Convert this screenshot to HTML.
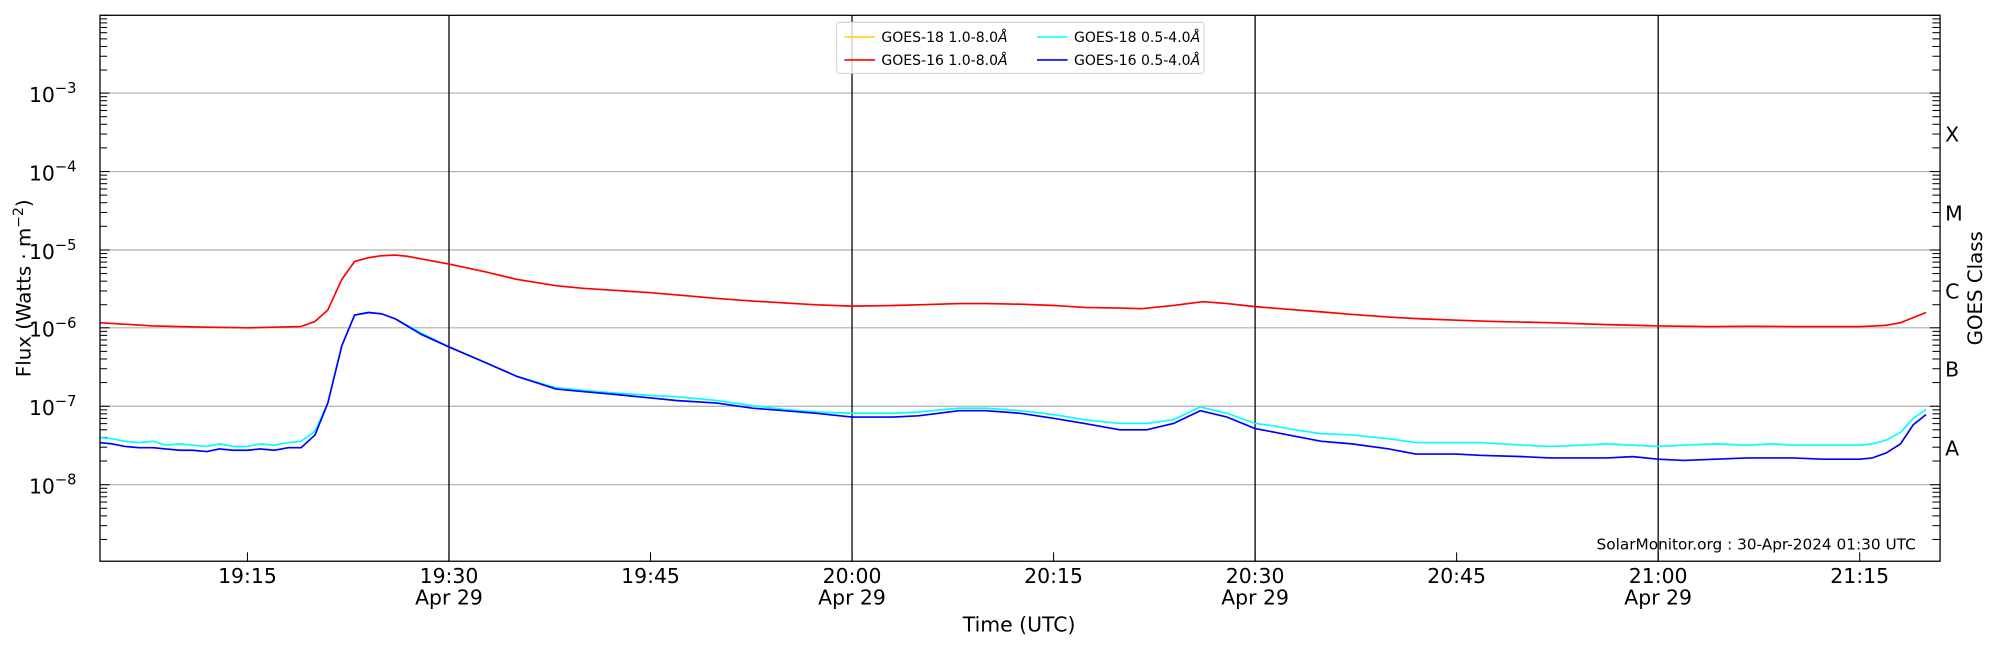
<!DOCTYPE html>
<html><head><meta charset="utf-8"><style>
html,body{margin:0;padding:0;background:#fff;}
svg{display:block;font-family:"DejaVu Sans","Liberation Sans",sans-serif;}
</style></head><body>
<svg id="s" width="2000" height="650" viewBox="0 0 1568 509.6" xmlns="http://www.w3.org/2000/svg">
<rect width="1568" height="509.6" fill="#fff"/>
<g stroke="#b0b0b0" stroke-width="0.9">
<line x1="78.4" x2="1521" y1="73" y2="73"/><line x1="78.4" x2="1521" y1="134.5" y2="134.5"/>
<line x1="78.4" x2="1521" y1="196" y2="196"/><line x1="78.4" x2="1521" y1="257" y2="257"/>
<line x1="78.4" x2="1521" y1="318.5" y2="318.5"/><line x1="78.4" x2="1521" y1="380" y2="380"/>
</g>
<g stroke="#000" stroke-width="1">
<line x1="352" x2="352" y1="12" y2="440"/><line x1="668" x2="668" y1="12" y2="440"/>
<line x1="984" x2="984" y1="12" y2="440"/><line x1="1300" x2="1300" y1="12" y2="440"/>
</g>
<g id="ticks" stroke="#000" stroke-width="0.8"></g>
<g fill="none" stroke-width="1.3" stroke-linejoin="round">
<polyline stroke="#00ffff" points="78,343 88,344 98,346 109,347 120,346 130,349 141,348 151,349 162,350 172,348 183,350 194,350 204,348 215,349 226,347 236,346 247,338 257,316 268,271 278,247 289,245 299,246 310,250 330,261 352,272 380,284 405,295 436,304 457,306 480,308 510,310 530,311 562,314 590,318 615,321 640,323 668,324 700,324 720,323 752,320 773,320 800,322 826,325 850,329 878,332 899,332 920,329 941,319 962,324 984,332 1000,334 1015,337 1036,340 1060,341 1089,344 1110,347 1142,347 1160,347 1194,349 1215,350 1240,349 1260,348 1280,349 1300,350 1320,349 1345,348 1370,349 1390,348 1405,349 1430,349 1458,349 1468,348 1479,345 1490,339 1500,328 1510,321"/>
<polyline stroke="#0000ff" points="78,347 88,348 98,350 109,351 120,351 130,352 141,353 151,353 162,354 172,352 183,353 194,353 204,352 215,353 226,351 236,351 247,341 257,316 268,271 278,247 289,245 299,246 310,250 330,262 352,272 380,284 405,295 436,305 457,307 480,309 510,312 530,314 562,316 590,320 615,322 640,324 668,327 700,327 720,326 752,322 773,322 800,324 826,328 850,332 878,337 899,337 920,332 941,322 962,327 984,336 1000,339 1015,342 1036,346 1060,348 1089,352 1110,356 1142,356 1160,357 1194,358 1215,359 1240,359 1260,359 1280,358 1300,360 1320,361 1345,360 1370,359 1390,359 1405,359 1430,360 1458,360 1468,359 1479,355 1490,348 1500,333 1510,325"/>
<polyline stroke="#ffd000" stroke-width="0.8" points="78,253 120,255.5 162,256.5 194,257 236,256 247,252 257,243 268,219 278,205 289,202 299,200.5 310,200 320,201 352,207 380,213 405,219 436,224 457,226 480,227.5 510,229.5 540,232 562,234 590,236 615,237.5 640,239 668,240 700,239.5 720,239 752,238 773,238 800,238.5 826,239.5 850,241 878,241.5 895,242 920,239.5 943,236.5 962,238 984,240.4 1010,242.5 1036,244.5 1060,246.5 1089,248.6 1115,250 1142,251 1170,252 1215,253 1260,254.5 1300,255.5 1340,256 1370,255.8 1405,256 1440,256 1458,256 1470,255.5 1479,255 1490,253 1500,249 1510,245"/>
<polyline stroke="#ff0000" points="78,253 120,255.5 162,256.5 194,257 236,256 247,252 257,243 268,219 278,205 289,202 299,200.5 310,200 320,201 352,207 380,213 405,219 436,224 457,226 480,227.5 510,229.5 540,232 562,234 590,236 615,237.5 640,239 668,240 700,239.5 720,239 752,238 773,238 800,238.5 826,239.5 850,241 878,241.5 895,242 920,239.5 943,236.5 962,238 984,240.4 1010,242.5 1036,244.5 1060,246.5 1089,248.6 1115,250 1142,251 1170,252 1215,253 1260,254.5 1300,255.5 1340,256 1370,255.8 1405,256 1440,256 1458,256 1470,255.5 1479,255 1490,253 1500,249 1510,245"/>
</g>
<rect x="78.4" y="12" width="1442.6" height="428" fill="none" stroke="#000" stroke-width="1"/>
<g font-size="16" text-anchor="end" fill="#000">
<text x="60" y="80">10<tspan dy="-7" font-size="11.5">−3</tspan></text>
<text x="60" y="141.5">10<tspan dy="-7" font-size="11.5">−4</tspan></text>
<text x="60" y="203">10<tspan dy="-7" font-size="11.5">−5</tspan></text>
<text x="60" y="264">10<tspan dy="-7" font-size="11.5">−6</tspan></text>
<text x="60" y="325.5">10<tspan dy="-7" font-size="11.5">−7</tspan></text>
<text x="60" y="387">10<tspan dy="-7" font-size="11.5">−8</tspan></text>
</g>
<g font-size="16" fill="#000">
<text x="1525" y="111">X</text><text x="1525" y="173">M</text><text x="1525" y="234">C</text>
<text x="1525" y="295">B</text><text x="1525" y="357">A</text>
</g>
<text transform="translate(1554,226) rotate(-90)" font-size="15.5" text-anchor="middle">GOES Class</text>
<text transform="translate(24,226) rotate(-90)" font-size="15.5" text-anchor="middle">Flux (Watts · m<tspan dy="-6" font-size="11">−2</tspan><tspan dy="6">)</tspan></text>
<g font-size="16" text-anchor="middle" fill="#000">
<text x="194" y="457">19:15</text><text x="352" y="457">19:30</text><text x="352" y="474">Apr 29</text>
<text x="510" y="457">19:45</text><text x="668" y="457">20:00</text><text x="668" y="474">Apr 29</text>
<text x="826" y="457">20:15</text><text x="984" y="457">20:30</text><text x="984" y="474">Apr 29</text>
<text x="1142" y="457">20:45</text><text x="1300" y="457">21:00</text><text x="1300" y="474">Apr 29</text>
<text x="1458" y="457">21:15</text>
<text x="799" y="495">Time (UTC)</text>
</g>
<text x="1502" y="431" font-size="12" text-anchor="end">SolarMonitor.org : 30-Apr-2024 01:30 UTC</text>
<rect x="656" y="17.5" width="288" height="40" rx="2" fill="#fff" fill-opacity="0.8" stroke="#d0d0d0" stroke-width="0.8"/>
<g stroke-width="1.2">
<line x1="662" x2="686" y1="29" y2="29" stroke="#ffd000"/><line x1="662" x2="686" y1="47" y2="47" stroke="#ff0000"/>
<line x1="813" x2="837" y1="29" y2="29" stroke="#00ffff"/><line x1="813" x2="837" y1="47" y2="47" stroke="#0000ff"/>
</g>
<g font-size="11" fill="#000">
<text x="691" y="33">GOES-18 1.0-8.0<tspan font-style="italic">Å</tspan></text>
<text x="691" y="51">GOES-16 1.0-8.0<tspan font-style="italic">Å</tspan></text>
<text x="842" y="33">GOES-18 0.5-4.0<tspan font-style="italic">Å</tspan></text>
<text x="842" y="51">GOES-16 0.5-4.0<tspan font-style="italic">Å</tspan></text>
</g>
</svg>
<script>
var g=document.getElementById('ticks'),h='';
var d=[12,73,134.5,196,257,318.5,380,441.4];
for(var i=0;i<d.length;i++){
 var y0=d[i];
 if(y0<=440&&y0>=12){h+='<line x1="78.4" x2="86" y1="'+y0+'" y2="'+y0+'"/><line x1="1513" x2="1521" y1="'+y0+'" y2="'+y0+'"/>';}
 for(var k=2;k<=9;k++){var y=y0+(61.4*(1-Math.log10(k)));
  if(y>12&&y<440)h+='<line x1="78.4" x2="84" y1="'+y+'" y2="'+y+'"/><line x1="1515" x2="1521" y1="'+y+'" y2="'+y+'"/>';}
}
[194,352,510,668,826,984,1142,1300,1458].forEach(function(x){h+='<line x1="'+x+'" x2="'+x+'" y1="433" y2="440"/>';});
g.innerHTML=h;
</script>
</body></html>
